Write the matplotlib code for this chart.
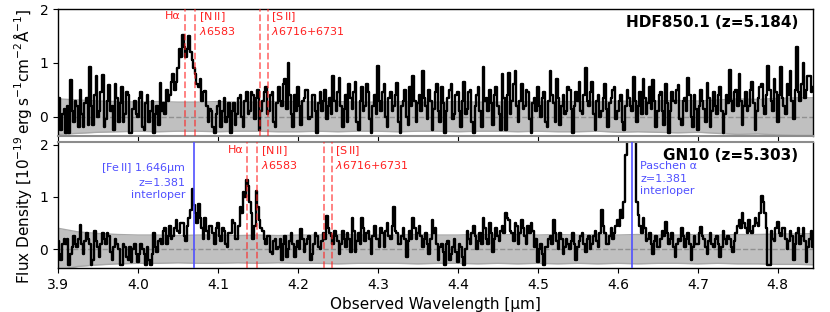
import numpy as np
import matplotlib
matplotlib.use('Agg')
import matplotlib.pyplot as plt

params = {
    'font.family': 'DejaVu Sans',
    'mathtext.fontset': 'dejavusans',
    'xtick.labelsize': 10,
    'ytick.labelsize': 10,
    'axes.labelsize': 11,
    'axes.linewidth': 1.0,
}
plt.rcParams.update(params)

# wavelength grid [um], same for both spectra (one row = 0.02 um)
wave_start = 3.900
wave_step = 0.002

# HDF850.1 flux density [1e-19 erg/s/cm2/A]
flux_hdf = [
    0.10, 0.35, -0.25, 0.05, 0.15, -0.30, 0.20, -0.30, 0.68, 0.10,
    -0.10, 0.30, 0.20, -0.20, 0.50, 0.05, -0.20, 0.25, 0.35, -0.15,
    0.92, 0.20, -0.15, 0.40, 0.76, 0.00, 0.10, 0.45, 0.78, -0.20,
    -0.05, 0.30, 0.58, 0.10, 0.20, -0.25, 0.60, 0.35, -0.10, 0.25,
    0.55, -0.10, 0.05, 0.45, 0.40, -0.30, -0.30, 0.15, 0.30, 0.05,
    0.00, 0.35, 0.45, -0.20, -0.25, 0.25, 0.40, -0.10, 0.10, 0.30,
    -0.30, 0.05, 0.20, -0.15, 0.63, 0.10, 0.25, 0.05, 0.50, 0.30,
    0.40, 0.65, 0.80, 0.50, 0.65, 0.90, 1.25, 1.10, 1.52, 1.30,
    1.10, 1.25, 1.50, 1.20, 1.05, 0.90, 0.80, 0.60, 0.55, 0.70,
    0.30, 0.45, 0.48, 0.20, -0.10, 0.15, 0.10, -0.20, -0.30, 0.05,
    0.20, 0.30, -0.20, 0.10, 0.35, -0.10, 0.00, 0.25, -0.30, 0.10,
    0.25, -0.15, 0.05, 0.35, 0.40, 0.00, -0.20, 0.30, 0.45, 0.05,
    0.10, 0.45, 0.40, -0.05, 0.35, 0.50, -0.25, 0.10, 0.30, 0.45,
    0.55, 0.05, 0.10, 0.40, 0.45, -0.10, -0.20, 0.25, 0.55, 0.30,
    0.20, 0.60, 0.70, 0.15, 1.00, 0.40, 0.05, -0.20, 0.40, 0.10,
    0.55, 0.20, -0.15, 0.30, 0.35, 0.50, 0.50, -0.05, 0.00, 0.40,
    0.40, 0.10, -0.30, 0.25, 0.45, 0.10, 0.30, 0.50, -0.05, 0.20,
    0.35, 0.05, 0.75, 0.30, 0.10, 0.45, 0.72, 0.20, -0.20, 0.15,
    0.40, -0.10, 0.60, 0.35, 0.15, 0.45, 0.65, -0.10, -0.25, 0.30,
    0.55, 0.10, 0.20, 0.60, 0.45, -0.05, -0.30, 0.20, 0.40, 0.05,
    0.95, 0.30, 0.10, 0.45, 0.60, 0.00, -0.20, 0.35, 0.45, 0.10,
    0.20, 0.40, 0.62, -0.10, -0.30, 0.20, 0.30, 0.50, 0.00, -0.15,
    0.55, 0.20, 0.75, 0.30, -0.10, 0.25, 0.40, 0.10, 0.85, 0.35,
    0.20, -0.05, 0.50, 0.30, -0.25, 0.15, 0.45, 0.60, 0.10, -0.10,
    0.55, 0.25, -0.30, 0.10, 0.35, 0.50, 0.60, -0.05, 0.05, 0.40,
    0.45, 0.10, -0.20, 0.30, 0.65, 0.05, 0.15, 0.45, 0.50, -0.10,
    -0.30, 0.20, 0.40, 0.55, 0.10, -0.20, 0.92, 0.30, 0.35, 0.10,
    0.50, 0.25, -0.15, 0.40, 0.55, 0.20, 0.05, -0.25, 0.80, 0.35,
    -0.25, 0.40, 0.82, 0.05, 0.30, 0.60, 0.85, 0.20, -0.10, 0.30,
    0.60, 0.15, 0.20, 0.50, 0.45, -0.05, -0.30, 0.25, 0.35, 0.10,
    0.55, 0.20, 0.00, 0.35, 0.45, -0.10, -0.20, 0.30, 0.85, 0.40,
    0.25, -0.10, 0.70, 0.35, -0.15, 0.20, 0.40, 0.05, 0.10, 0.55,
    0.50, 0.15, -0.30, 0.20, 0.45, 0.30, 0.65, 0.10, 0.05, 0.40,
    0.90, 0.30, 0.20, 0.45, 0.65, 0.05, -0.25, 0.30, 0.40, 0.00,
    0.10, 0.35, 0.60, 0.15, -0.20, 0.25, 0.35, 0.50, 0.55, -0.05,
    0.10, 0.30, 0.40, -0.10, -0.25, 0.20, 0.50, 0.35, 0.20, 0.10,
    0.74, 0.30, -0.10, 0.20, 0.45, 0.05, 0.70, 0.35, 0.05, 0.25,
    0.55, 0.15, 0.68, 0.30, -0.20, 0.10, 0.40, 0.45, 0.10, -0.15,
    0.60, 0.25, -0.30, 0.10, 0.45, 0.30, 0.25, 0.50, 0.58, -0.05,
    -0.15, 0.30, 0.35, 0.10, 0.72, 0.40, 0.00, -0.20, 0.40, 0.15,
    -0.25, 0.20, 0.50, 0.30, 0.15, -0.10, 0.62, 0.35, -0.20, 0.10,
    0.45, 0.20, 0.05, 0.40, 0.55, 0.10, -0.30, 0.05, 0.40, 0.25,
    0.87, 0.30, 0.10, 0.45, 0.50, 0.20, 0.80, 0.30, -0.15, 0.20,
    0.45, 0.10, 0.20, 0.50, 0.65, 0.25, -0.25, 0.10, 0.35, 0.55,
    0.60, 0.20, 0.05, 0.40, 0.95, 0.50, 0.30, 0.10, 0.70, 0.45,
    -0.10, 0.40, 0.92, 0.35, 0.20, 0.05, 0.60, 0.40, 0.85, 0.30,
    -0.05, 0.50, 1.30, 0.45, 0.30, 0.60, 1.00, 0.35, 0.50, 0.75,
    0.75, 0.45, 0.55,
]

# GN10 flux density
flux_gn10 = [
    0.15, -0.10, -0.20, 0.10, 0.20, 0.10, 0.20, -0.30, -0.10, 0.05,
    0.25, 0.10, 0.05, 0.20, 0.46, 0.10, -0.10, 0.15, 0.30, 0.20,
    0.10, -0.30, -0.20, 0.35, 0.15, 0.05, -0.15, 0.10, 0.30, 0.20,
    0.10, 0.30, 0.25, -0.05, -0.20, 0.05, 0.20, 0.10, 0.00, -0.30,
    -0.30, 0.10, 0.05, -0.15, -0.20, 0.05, -0.25, 0.00, 0.10, -0.10,
    -0.25, -0.10, 0.10, 0.00, -0.10, -0.30, 0.05, -0.20, -0.30, -0.10,
    0.30, 0.05, -0.05, 0.15, 0.20, 0.10, 0.35, 0.40, 0.10, 0.25,
    0.45, 0.20, 0.25, 0.40, 0.55, 0.35, 0.30, 0.50, 0.50, 0.25,
    0.15, 0.45, 0.60, 0.75, 1.15, 0.85, 0.70, 0.50, 0.86, 0.60,
    0.40, 0.20, 0.60, 0.35, 0.20, 0.45, 0.45, 0.30, 0.10, 0.40,
    0.50, 0.25, 0.15, 0.40, 0.35, 0.10, 0.05, 0.30, 0.30, 0.55,
    0.50, 0.20, 0.20, 0.45, 0.80, 0.70, 1.10, 1.00, 1.33, 1.20,
    0.90, 0.70, 0.20, 0.45, 1.12, 0.80, 0.55, 0.40, 0.35, 0.20,
    0.10, 0.25, 0.25, -0.05, -0.10, 0.15, 0.20, 0.00, 0.05, 0.20,
    -0.20, 0.10, 0.25, -0.15, 0.00, 0.15, 0.30, 0.10, -0.15, 0.05,
    0.15, 0.00, 0.38, 0.20, -0.05, 0.10, 0.20, 0.25, -0.20, -0.10,
    0.10, 0.30, 0.25, 0.05, 0.00, 0.15, 0.30, 0.20, 0.64, 0.40,
    0.30, 0.25, 0.10, 0.35, 0.25, 0.15, -0.10, 0.10, 0.35, 0.20,
    0.05, 0.30, 0.20, -0.05, 0.60, 0.35, -0.05, 0.15, 0.30, 0.10,
    0.60, 0.40, 0.15, 0.30, 0.35, 0.20, -0.10, 0.25, 0.45, 0.20,
    0.20, 0.05, 0.40, 0.30, 0.05, 0.35, 0.50, 0.25, 0.20, 0.45,
    0.80, 0.35, 0.30, 0.10, 0.10, 0.25, 0.40, 0.20, -0.15, 0.15,
    0.35, 0.20, 0.60, 0.40, 0.20, 0.30, 0.45, 0.25, 0.05, 0.20,
    0.30, 0.10, -0.10, 0.20, 0.56, 0.30, 0.40, 0.10, -0.20, 0.05,
    0.10, -0.05, -0.30, 0.10, 0.15, -0.20, -0.10, 0.05, 0.20, -0.05,
    -0.25, 0.10, 0.05, -0.15, -0.30, 0.00, 0.35, 0.20, 0.10, 0.30,
    0.45, 0.25, 0.00, 0.15, 0.30, 0.10, 0.60, 0.40, 0.20, 0.10,
    0.50, 0.30, -0.05, 0.20, 0.40, 0.25, 0.15, 0.35, 0.45, 0.30,
    0.70, 0.60, 0.55, 0.35, 0.30, 0.15, 0.50, 0.45, 0.10, 0.30,
    0.55, 0.40, 0.25, 0.10, 0.45, 0.30, 0.50, 0.35, 0.05, 0.20,
    -0.25, 0.00, 0.10, -0.10, -0.30, 0.05, 0.05, 0.20, 0.25, 0.10,
    0.56, 0.30, 0.15, 0.00, 0.30, 0.20, -0.10, 0.05, 0.20, 0.10,
    0.00, 0.15, 0.30, 0.10, -0.20, 0.05, 0.15, 0.25, 0.30, 0.10,
    -0.05, 0.20, 0.25, 0.00, 0.10, 0.25, 0.35, 0.15, 0.05, 0.30,
    0.75, 0.45, 0.30, 0.10, 0.10, 0.25, 0.40, 0.20, 0.30, 0.45,
    0.55, 0.45, 0.74, 0.60, 0.90, 1.80, 3.00, 3.50, 4.00, 3.60,
    3.00, 2.20, 0.90, 0.65, 0.45, 0.30, 0.60, 0.40, 0.15, 0.20,
    0.30, 0.10, -0.10, 0.15, 0.25, 0.05, 0.05, 0.20, 0.35, 0.25,
    0.52, 0.30, 0.10, 0.20, 0.30, 0.05, -0.15, 0.10, 0.20, 0.15,
    0.40, 0.25, 0.05, 0.20, 0.30, 0.10, -0.20, 0.05, 0.25, 0.10,
    0.10, 0.30, 0.43, 0.25, 0.20, 0.05, -0.10, 0.15, 0.30, 0.10,
    0.05, 0.20, 0.25, 0.10, -0.15, 0.05, 0.35, 0.20, 0.10, 0.25,
    0.20, 0.05, -0.05, 0.15, 0.30, 0.45, 0.55, 0.40, 0.69, 0.50,
    0.40, 0.30, 0.55, 0.35, 0.30, 0.45, 0.60, 0.50, 0.45, 0.70,
    1.02, 0.90, 0.70, 0.40, -0.30, -0.30, 0.35, 0.20, 0.15, 0.40,
    0.52, 0.30, 0.25, 0.40, 0.40, 0.20, 0.00, 0.15, 0.35, 0.25,
    -0.20, 0.10, 0.30, 0.40, 0.10, 0.25, 0.40, 0.15, -0.25, 0.05,
    0.20, 0.35, 0.05,
]

# 1-sigma noise, sampled every 0.025 um
err_wave = [3.900 + 0.025 * i for i in range(39)]
err_hdf = [0.33, 0.31, 0.29, 0.28, 0.27, 0.28, 0.27, 0.27, 0.28, 0.27,
           0.27, 0.28, 0.28, 0.27, 0.28, 0.27, 0.27, 0.28, 0.27, 0.27,
           0.28, 0.27, 0.27, 0.28, 0.27, 0.28, 0.28, 0.27, 0.29, 0.28,
           0.29, 0.30, 0.29, 0.31, 0.33, 0.32, 0.34, 0.35, 0.35]
err_gn10 = [0.40, 0.33, 0.30, 0.28, 0.27, 0.27, 0.26, 0.27, 0.27, 0.26,
            0.27, 0.26, 0.27, 0.27, 0.28, 0.27, 0.27, 0.27, 0.28, 0.27,
            0.27, 0.28, 0.27, 0.28, 0.27, 0.28, 0.27, 0.28, 0.27, 0.28,
            0.27, 0.27, 0.28, 0.27, 0.28, 0.28, 0.29, 0.29, 0.30]

# rest-frame lines [Angstrom]
rest_lines = [6563., 6583., 6716., 6731.]
z_hdf = 5.184
z_gn10 = 5.303
fe2_obs = 4.0695
paa_obs = 4.618

wave = wave_start + wave_step * np.arange(len(flux_hdf))

fig = plt.figure(figsize=(8.3, 3.12), dpi=100)
ax1 = fig.add_axes([0.0699, 0.564, 0.9096, 0.407])
ax2 = fig.add_axes([0.0699, 0.141, 0.9096, 0.404])

red = '#ff2020'
blue = '#5050ff'

panels = [(ax1, flux_hdf, err_hdf, z_hdf, 'HDF850.1 (z=5.184)', 2.0),
          (ax2, flux_gn10, err_gn10, z_gn10, 'GN10 (z=5.303)', 2.05)]

for ax, flux, err, z, name, ytop in panels:
    err = np.array(err)
    ax.fill_between(err_wave, -err, err, color='#c0c0c0', lw=0, zorder=1)
    ax.plot(err_wave, err, color='#a8a8a8', lw=1.0, zorder=1)
    ax.plot(err_wave, -err, color='#a8a8a8', lw=1.0, zorder=1)
    ax.axhline(0, color='#909090', ls='--', lw=1.0, zorder=1.5)
    ax.plot(wave, flux, color='k', lw=1.7, drawstyle='steps-mid', zorder=2)
    obs = [lam * (1 + z) / 1e4 for lam in rest_lines]
    for lo in obs:
        ax.axvline(lo, color=red, alpha=0.6, ls='--', lw=1.3, zorder=3)
    ymax = 1.97 if ax is ax1 else 2.0
    ax.text(obs[0] - 0.005, ymax, 'Hα', color=red,
            fontsize=8, ha='right', va='top')
    ax.text(obs[1] + 0.005, ymax, '[N$\\,$II]\n$\\lambda$6583', color=red,
            fontsize=8, ha='left', va='top', linespacing=1.1)
    ax.text(obs[3] + 0.004, ymax, '[S$\\,$II]\n$\\lambda$6716+6731', color=red,
            fontsize=8, ha='left', va='top', linespacing=1.1)
    ax.text(0.98, 0.955, name, transform=ax.transAxes, ha='right', va='top',
            fontsize=11, fontweight='bold')
    ax.set_xlim(3.9, 4.844)
    ax.set_ylim(-0.36, ytop)
    ax.set_yticks([0, 1, 2])
    ax.set_xticks(np.arange(3.9, 4.85, 0.1))

# interloper lines in GN10
ax2.axvline(fe2_obs, color=blue, lw=1.2, zorder=3)
ax2.axvline(paa_obs, color=blue, lw=1.2, zorder=3)
ax2.text(fe2_obs - 0.01, 1.68, '[Fe$\\,$II] 1.646µm\nz=1.381\ninterloper',
         color=blue, fontsize=8, ha='right', va='top', multialignment='right',
         linespacing=1.3)
ax2.text(paa_obs + 0.01, 1.68, 'Paschen α\nz=1.381\ninterloper',
         color=blue, fontsize=8, ha='left', va='top', linespacing=1.3)

ax1.tick_params(axis='x', labelbottom=False)
ax1.spines['bottom'].set_color('0.55')
ax2.spines['top'].set_color('0.55')
ax1.spines['bottom'].set_linewidth(1.5)
ax2.spines['top'].set_linewidth(1.5)

ax2.set_xticklabels(['%.1f' % t for t in np.arange(3.9, 4.85, 0.1)])
ax2.set_xlabel('Observed Wavelength [µm]')
fig.text(0.027, 0.53,
         r'Flux Density [$10^{-19}\,\mathrm{erg\,s^{-1}cm^{-2}\AA^{-1}}$]',
         rotation=90, ha='center', va='center', fontsize=11)

fig.savefig('out.png', dpi=100)
